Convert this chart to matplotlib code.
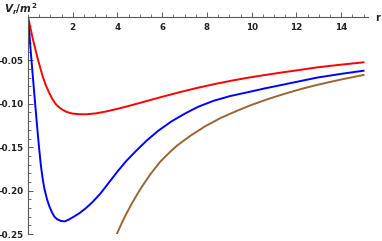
import numpy as np
import matplotlib
matplotlib.use("Agg")
import matplotlib.pyplot as plt
from matplotlib.ticker import MultipleLocator, FixedLocator

# values
red_r = [0, 0.21, 0.43, 0.66, 0.81, 0.96, 1.1, 1.25, 1.4, 1.55, 1.75, 2.0,
         2.3, 2.6, 3.05, 3.5, 4.0, 4.5, 5.0, 5.5, 6.06, 6.8, 7.55, 8.3, 9.05,
         9.8, 10.6, 11.43, 12.2, 12.93, 14.0, 15.0]
red_v = [0, -0.0246, -0.0476, -0.0688, -0.0795, -0.088, -0.0950, -0.1006,
         -0.1043, -0.1070, -0.1096, -0.1113, -0.1120, -0.1121, -0.1110,
         -0.1088, -0.1058, -0.1025, -0.0990, -0.0954, -0.0915, -0.0865,
         -0.0818, -0.0775, -0.0736, -0.0701, -0.0668, -0.0636, -0.0608,
         -0.0580, -0.0549, -0.0522]

blue_r = [0, 0.13, 0.28, 0.40, 0.50, 0.58, 0.66, 0.73, 0.85, 0.96, 1.07, 1.18,
          1.30, 1.48, 1.65, 1.85, 2.05, 2.30, 2.60, 2.90, 3.25, 3.64, 4.0, 4.39,
          4.8, 5.3, 5.8, 6.4, 7.0, 7.6, 8.3, 9.05, 9.8, 10.6, 11.43, 12.2,
          12.93, 14.0, 15.0]
blue_v = [0, -0.042, -0.088, -0.124, -0.152, -0.172, -0.187, -0.1975, -0.210,
          -0.2185, -0.225, -0.230, -0.233, -0.235, -0.2355, -0.233, -0.230,
          -0.226, -0.220, -0.2128, -0.203, -0.190, -0.178, -0.166, -0.155,
          -0.1425, -0.1315, -0.1205, -0.1115, -0.1035, -0.0965, -0.0910,
          -0.0868, -0.0822, -0.0778, -0.0737, -0.0698, -0.0655, -0.0619]

brown_r = [3.97, 4.2, 4.42, 4.65, 4.87, 5.1, 5.46, 5.91, 6.36, 6.66, 7.25,
           7.9, 8.6, 9.3, 10.0, 10.7, 11.43, 12.2, 12.93, 14.0, 15.0]
brown_v = [-0.25, -0.2370, -0.2255, -0.2145, -0.2048, -0.1952, -0.1815,
           -0.1668, -0.1552, -0.1482, -0.1370, -0.1262, -0.1165, -0.1085,
           -0.1012, -0.0948, -0.0888, -0.0830, -0.0782, -0.0720, -0.0668]

x_ticks = [2, 4, 6, 8, 10, 12, 14]
y_ticks = [-0.25, -0.20, -0.15, -0.10, -0.05]

plt.rcParams['axes.unicode_minus'] = False
plt.rcParams['mathtext.fontset'] = 'custom'
plt.rcParams['mathtext.it'] = 'DejaVu Sans:italic:bold'
plt.rcParams['mathtext.rm'] = 'DejaVu Sans:bold'

fig = plt.figure(figsize=(3.82, 2.41), dpi=100)
ax = fig.add_axes([28 / 382, 1 - 234 / 241, 340 / 382, 217 / 241])

lw = 1.4
ax.plot(red_r, red_v, color=(1, 0, 0), lw=lw)
ax.plot(blue_r, blue_v, color=(0, 0, 1), lw=lw)
ax.plot(brown_r, brown_v, color=(0.6, 0.4, 0.2), lw=lw)

ax.set_xlim(0, 15.2)
ax.set_ylim(-0.25, 0)

# mathematica-like axes: x axis along the top (y=0), y axis at x=0
ax.spines['top'].set_visible(False)
ax.spines['right'].set_visible(False)
ax.spines['bottom'].set_position(('data', 0))
axcol = '0.35'
for s in ['bottom', 'left']:
    ax.spines[s].set_color(axcol)
    ax.spines[s].set_linewidth(0.8)

ax.xaxis.set_major_locator(FixedLocator(x_ticks))
ax.xaxis.set_minor_locator(MultipleLocator(0.5))
ax.yaxis.set_major_locator(FixedLocator(y_ticks))
ax.yaxis.set_minor_locator(MultipleLocator(0.01))
ax.set_xticklabels([str(t) for t in x_ticks])
ax.set_yticklabels(['%.2f' % t for t in y_ticks])

ax.tick_params(which='major', direction='in', length=3.5, width=0.7, color=axcol,
               labelsize=6.3, labelcolor='#222222')
ax.tick_params(which='minor', direction='in', length=2, width=0.6, color=axcol)
ax.tick_params(axis='x', which='major', pad=4)
ax.tick_params(axis='y', which='major', pad=3)
for lab in ax.get_xticklabels() + ax.get_yticklabels():
    lab.set_fontweight('bold')

fig.text(4 / 382, 1 - 1 / 241, r'$V_r/m^2$', fontsize=7.5, color='#222222',
         ha='left', va='top')
fig.text(378 / 382, 1 - 18 / 241, 'r', fontsize=7, color='#222222',
         ha='center', va='center', fontweight='bold')

fig.savefig('out.png', dpi=100)
